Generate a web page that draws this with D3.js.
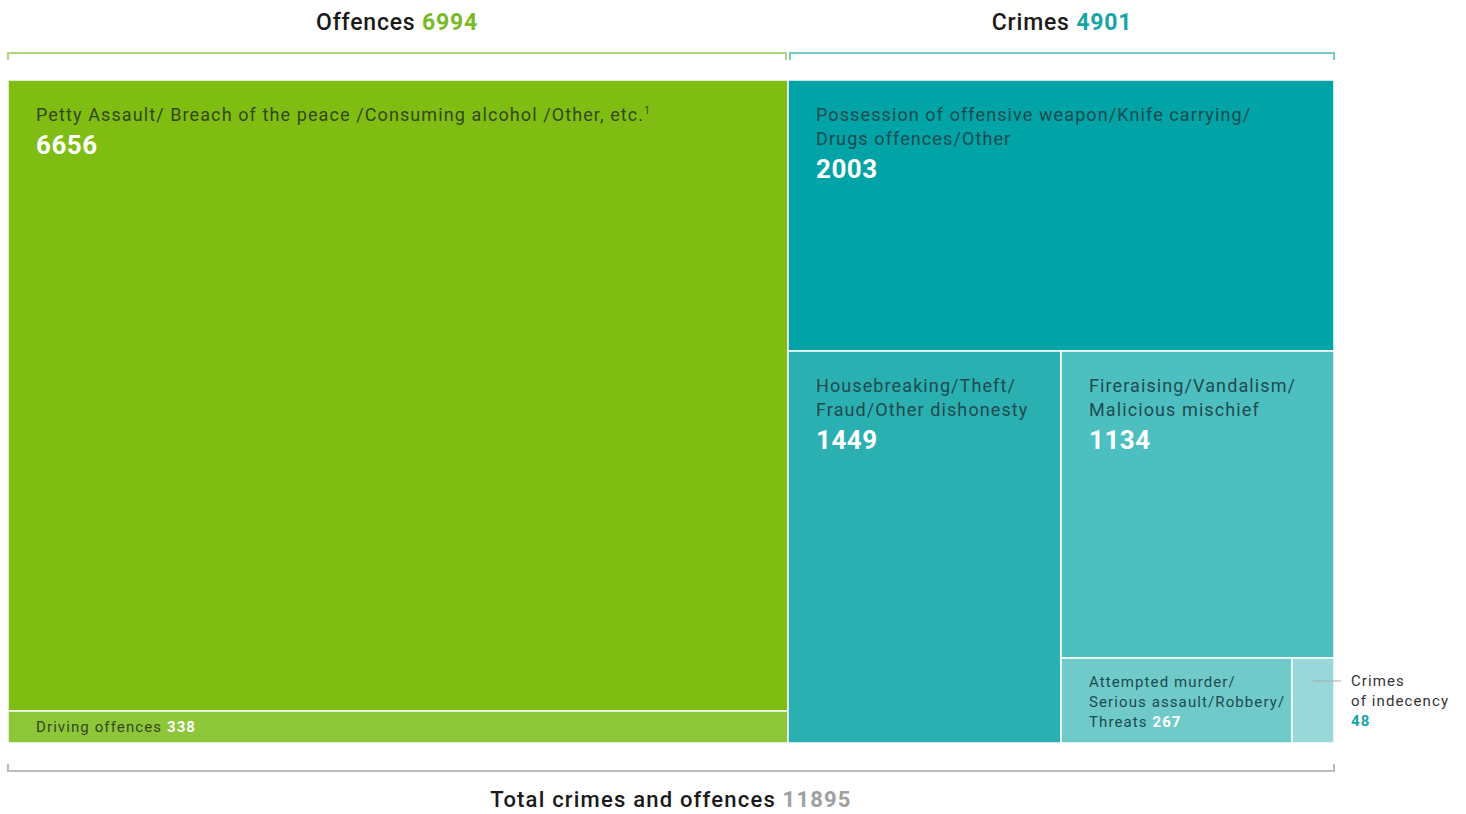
<!DOCTYPE html>
<html>
<head>
<meta charset="utf-8">
<script src="https://cdnjs.cloudflare.com/ajax/libs/d3/7.8.5/d3.min.js"></script>
<style>
  body { margin: 0; background: #fff; }
  svg text { font-family: Roboto, "Open Sans", sans-serif; }
</style>
</head>
<body>
<svg id="chart" width="1466" height="814"></svg>
<script>
// data
const groupNames = ['Offences', 'Crimes'];
const groupTotals = [6994, 4901];
const totalLabel = 'Total crimes and offences';
const totalValue = 11895;

const offenceLabels = [
    ['Petty Assault/ Breach of the peace /Consuming alcohol /Other, etc.'],
    ['Driving offences']
];
const offenceValues = [6656, 338];
const offenceColors = ['#80bd12', '#8ec63a'];

const crimeLabels = [
    ['Possession of offensive weapon/Knife carrying/', 'Drugs offences/Other'],
    ['Housebreaking/Theft/', 'Fraud/Other dishonesty'],
    ['Fireraising/Vandalism/', 'Malicious mischief'],
    ['Attempted murder/', 'Serious assault/Robbery/', 'Threats'],
    ['Crimes', 'of indecency']
];
const crimeValues = [2003, 1449, 1134, 267, 48];
const crimeColors = ['#00a3a6', '#2bb0b2', '#4ebfc1', '#70caca', '#99d8d8'];

const groupColors = ['#7ab929', '#17a5a8'];

const svg = d3.select('#chart');
const mapLeft = 8, mapTop = 80, mapWidth = 1326, mapHeight = 663;

// build the hierarchy; crimes nest one level deeper each step so slice/dice alternates
function leaf(labels, value, color, style) {
    return { lines: labels, value: value, color: color, style: style };
}
const crimeStyles = ['big', 'big', 'big', 'small', 'outside'];
const crimeTree = crimeValues.reduceRight(function(rest, v, i) {
    const node = leaf(crimeLabels[i], v, crimeColors[i], crimeStyles[i]);
    if (!rest) return node;
    return { children: [node, rest] };
}, null);

const rootData = {
    children: [
        { name: groupNames[0], total: groupTotals[0], children: [
            leaf(offenceLabels[0], offenceValues[0], offenceColors[0], 'big'),
            leaf(offenceLabels[1], offenceValues[1], offenceColors[1], 'inline')
        ]},
        { name: groupNames[1], total: groupTotals[1], children: crimeTree.children }
    ]
};

const root = d3.hierarchy(rootData)
    .sum(d => d.children ? 0 : d.value);

d3.treemap()
    .tile(d3.treemapSliceDice)
    .size([mapWidth, mapHeight])
    .round(true)(root);

const g = svg.append('g').attr('transform', `translate(${mapLeft},${mapTop})`);

const leaves = root.leaves();

g.selectAll('rect.cell')
    .data(leaves)
    .join('rect')
    .attr('class', 'cell')
    .attr('x', d => d.x0)
    .attr('y', d => d.y0)
    .attr('width', d => d.x1 - d.x0)
    .attr('height', d => d.y1 - d.y0)
    .attr('fill', d => d.data.color)
    .attr('stroke', '#fff')
    .attr('stroke-width', 1.5);

const darkText = d => offenceColors.includes(d.data.color) ? '#33481a' : '#1d4b50';

leaves.forEach(function(d) {
    const x = d.x0 + 28;
    if (d.data.style === 'big') {
        const t = g.append('text').attr('font-size', 18).attr('letter-spacing', 1.1).attr('fill', darkText(d));
        d.data.lines.forEach(function(line, i) {
            t.append('tspan').attr('x', x).attr('y', d.y0 + 41 + i * 24).text(line);
        });
        if (d.data.value === offenceValues[0]) {
            t.append('tspan').attr('font-size', 10).attr('dy', -7).text('1');
        }
        g.append('text')
            .attr('x', x)
            .attr('y', d.y0 + 41 + d.data.lines.length * 24 + 9)
            .attr('font-size', 26)
            .attr('font-weight', 'bold')
            .attr('letter-spacing', 0.5)
            .attr('fill', '#fff')
            .text(d.data.value);
    } else if (d.data.style === 'inline') {
        const t = g.append('text')
            .attr('x', x)
            .attr('y', (d.y0 + d.y1) / 2 + 5)
            .attr('font-size', 15)
            .attr('letter-spacing', 1.1)
            .attr('fill', darkText(d));
        t.append('tspan').text(d.data.lines[0] + ' ');
        t.append('tspan').attr('fill', '#fff').attr('font-weight', 'bold').text(d.data.value);
    } else if (d.data.style === 'small') {
        const t = g.append('text').attr('font-size', 15).attr('letter-spacing', 1.1).attr('fill', darkText(d));
        d.data.lines.forEach(function(line, i) {
            t.append('tspan').attr('x', x).attr('y', d.y0 + 29 + i * 20).text(line);
            if (i === d.data.lines.length - 1) {
                t.append('tspan').attr('fill', '#fff').attr('font-weight', 'bold').text(' ' + d.data.value);
            }
        });
    } else {
        // outside label with leader line
        const ly = d.y0 + 23;
        g.append('line')
            .attr('x1', (d.x0 + d.x1) / 2).attr('x2', d.x1 + 7)
            .attr('y1', ly).attr('y2', ly)
            .attr('stroke', '#aaa').attr('stroke-width', 1);
        const t = g.append('text').attr('font-size', 15).attr('letter-spacing', 1.1).attr('fill', '#333');
        d.data.lines.forEach(function(line, i) {
            t.append('tspan').attr('x', d.x1 + 17).attr('y', ly + 5 + i * 20).text(line);
        });
        t.append('tspan').attr('x', d.x1 + 17).attr('y', ly + 5 + d.data.lines.length * 20)
            .attr('fill', groupColors[1]).attr('font-weight', 'bold').text(d.data.value);
    }
});

// group brackets + titles
root.children.forEach(function(grp, i) {
    const x0 = mapLeft + grp.x0 + (i === 0 ? 0 : 2);
    const x1 = mapLeft + grp.x1 - (i === 0 ? 2 : 0);
    const by = 53;
    svg.append('path')
        .attr('d', `M${x0},${by + 7}V${by}H${x1}V${by + 7}`)
        .attr('fill', 'none')
        .attr('stroke', groupColors[i])
        .attr('stroke-opacity', 0.6)
        .attr('stroke-width', 2);
    const t = svg.append('text')
        .attr('x', (x0 + x1) / 2)
        .attr('y', 30)
        .attr('text-anchor', 'middle')
        .attr('font-size', 23)
        .attr('font-weight', 500)
        .attr('letter-spacing', 0.8)
        .attr('fill', '#1a1a1a');
    t.append('tspan').text(grp.data.name + ' ');
    t.append('tspan').attr('fill', groupColors[i]).attr('font-weight', 'bold').text(grp.data.total);
});

// total bracket at the bottom
const bx0 = mapLeft, bx1 = mapLeft + mapWidth, byb = 771;
svg.append('path')
    .attr('d', `M${bx0},${byb - 7}V${byb}H${bx1}V${byb - 7}`)
    .attr('fill', 'none')
    .attr('stroke', '#bbb')
    .attr('stroke-width', 2);
const tt = svg.append('text')
    .attr('x', (bx0 + bx1) / 2)
    .attr('y', 807)
    .attr('text-anchor', 'middle')
    .attr('font-size', 22)
    .attr('font-weight', 500)
    .attr('letter-spacing', 1.2)
    .attr('fill', '#1a1a1a');
tt.append('tspan').text(totalLabel + ' ');
tt.append('tspan').attr('fill', '#a0a0a0').attr('font-weight', 'bold').text(totalValue);
</script>
</body>
</html>
